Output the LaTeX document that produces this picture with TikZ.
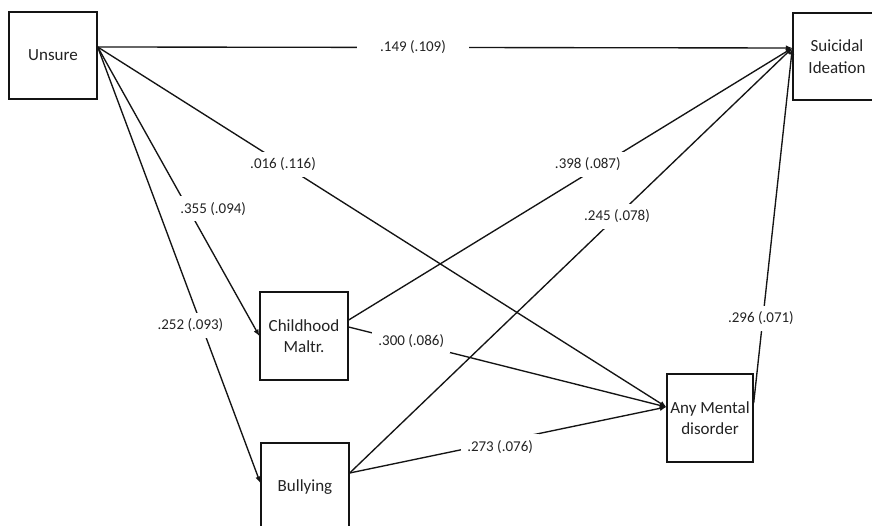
\documentclass[tikz,border=0pt]{standalone}
\usepackage{fontspec}
\setmainfont{Carlito}
\usepackage{tikz}
\usetikzlibrary{arrows.meta}
\definecolor{ink}{RGB}{20,20,20}
\definecolor{txt}{RGB}{35,35,35}
\tikzset{
  varbox/.style={draw=ink, line width=1.35pt, minimum width=88pt, minimum height=87pt,
    align=center, text=txt, font=\fontsize{17}{21.5}\selectfont},
  flow/.style={-{Latex[length=6.5pt,width=5.5pt]}, line width=1.35pt, draw=ink},
  coef/.style={fill=white, inner sep=6pt, text=txt, font=\fontsize{15}{18}\selectfont}
}

\begin{document}
\begin{tikzpicture}[x=1pt, y=1pt]
\useasboundingbox (0,0) rectangle (872,526);
\clip (0,0) rectangle (872,526);
\fill[white] (0,0) rectangle (872,526);

\node[varbox] (unsure) at (53,470.5) {Unsure};
\node[varbox] (ideation) at (837,469.5) {Suicidal\\Ideation};
\node[varbox, minimum height=88pt] (maltr) at (304,190) {Childhood\\Maltr.};
\node[varbox, minimum height=88pt] (bully) at (305,39) {Bullying};
\node[varbox, minimum width=86pt, minimum height=88pt] (mental) at (710,108) {Any Mental\\disorder};

\draw[flow] ([yshift=8.5pt]unsure.east) -- node[coef, pos=0.454, inner xsep=23pt] (c1) {.149 (.109)} ([yshift=8.5pt]ideation.west);
\draw[flow] ([yshift=8.5pt]unsure.east) -- node[coef, pos=0.326] (c2) {.016 (.116)} ([yshift=11pt]mental.west);
\draw[flow] ([yshift=8.5pt]unsure.east) -- node[coef, pos=0.56, xshift=25pt] (c3) {.355 (.094)} ([yshift=0pt]maltr.west);
\draw[flow] ([yshift=8.5pt]unsure.east) -- node[coef, pos=0.638, xshift=-11pt] (c4) {.252 (.093)} ([yshift=4pt]bully.west);
\draw[flow] ([yshift=16pt]maltr.east) -- node[coef, pos=0.539, yshift=9pt] (c5) {.398 (.087)} ([yshift=8.5pt]ideation.west);
\draw[flow] ([yshift=14pt]bully.east) -- node[coef, pos=0.604] (c6) {.245 (.078)} ([yshift=8.5pt]ideation.west);
\draw[flow] ([yshift=9pt]maltr.east) -- node[coef, pos=0.197, yshift=2pt] (c7) {.300 (.086)} ([yshift=11pt]mental.west);
\draw[flow] ([yshift=14pt]bully.east) -- node[coef, pos=0.475, yshift=-5pt] (c8) {.273 (.076)} ([yshift=11pt]mental.west);
\draw[flow] ([yshift=15pt]mental.east) -- node[coef, pos=0.239, xshift=-2pt] (c9) {.296 (.071)} ([yshift=8.5pt]ideation.west);
\end{tikzpicture}
\end{document}
